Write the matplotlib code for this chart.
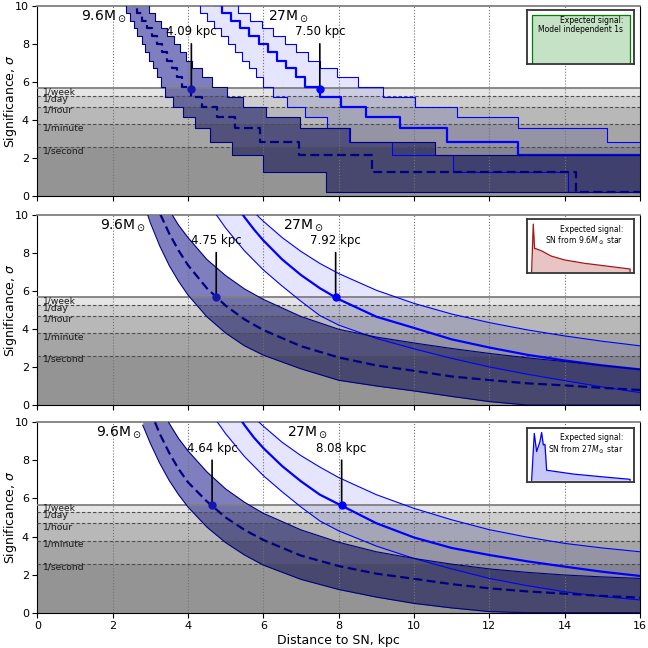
import numpy as np
import matplotlib
matplotlib.use('Agg')
import matplotlib.pyplot as plt

# ---------------- data ----------------
# discrete significance levels of the top (counting) panel
levels = [0.23, 1.28, 2.16, 2.86, 3.56, 4.14, 4.70, 5.23, 5.72, 6.25, 6.72,
          7.12, 7.57, 8.0, 8.42, 8.83, 9.23, 9.62, 10.05, 10.45]
# distances (kpc) where each stair drops one level (level index 19 downwards)
top96_lo = [2.25, 2.35, 2.45, 2.56, 2.66, 2.77, 2.87, 2.97, 3.08, 3.18, 3.29,
            3.39, 3.61, 3.88, 4.19, 4.58, 5.16, 6.00, 7.67]
top96_mid = [2.55, 2.64, 2.77, 2.90, 3.04, 3.17, 3.30, 3.43, 3.57, 3.70, 3.83,
             4.09, 4.36, 4.76, 5.25, 5.91, 6.96, 8.88, 14.30]
top96_hi = [2.85, 2.97, 3.13, 3.29, 3.45, 3.62, 3.78, 3.94, 4.10, 4.36, 4.63,
            5.03, 5.47, 6.07, 6.97, 8.30, 10.56]
top27_lo = [4.15, 4.32, 4.51, 4.69, 4.88, 5.07, 5.25, 5.44, 5.63, 5.81, 6.00,
            6.27, 6.62, 7.11, 7.68, 8.28, 9.42, 11.04, 14.10]
top27_mid = [4.70, 4.90, 5.14, 5.39, 5.63, 5.88, 6.12, 6.37, 6.61, 6.86, 7.10,
             7.50, 8.05, 8.73, 9.63, 10.87, 12.77]
top27_hi = [5.10, 5.34, 5.65, 5.96, 6.27, 6.57, 6.88, 7.19, 7.50, 7.96, 8.52,
            9.19, 10.03, 11.13, 12.77, 15.13]

d96 = [2.8, 3.0, 3.25, 3.5, 3.75, 4.0, 4.5, 5.0, 5.5, 6.0, 7.0, 8.0, 9.0,
       10.0, 11.0, 12.0, 13.0, 14.0, 15.0, 16.0]
d27 = [4.5, 4.75, 5.0, 5.25, 5.5, 5.75, 6.0, 6.5, 7.0, 7.5, 8.0, 9.0, 10.0,
       11.0, 12.0, 13.0, 14.0, 15.0, 16.0]

mid96_lo = [10.76, 9.58, 8.36, 7.34, 6.50, 5.78, 4.64, 3.78, 3.11, 2.62, 1.90,
            1.30, 1.00, 0.74, 0.45, 0.18, 0.0, 0.0, 0.0, 0.0]
mid96_mid = [12.66, 11.4, 10.09, 9.02, 8.12, 7.35, 6.14, 5.22, 4.50, 3.94, 3.09,
             2.50, 2.08, 1.80, 1.50, 1.31, 1.14, 1.03, 0.90, 0.79]
mid96_hi = [13.3, 12.3, 11.2, 10.25, 9.45, 8.8, 7.65, 6.8, 6.1, 5.55, 4.65,
            3.98, 3.57, 3.26, 2.97, 2.71, 2.48, 2.28, 2.07, 1.87]
mid27_lo = [11.0, 10.0, 9.3, 8.7, 8.1, 7.6, 7.1, 6.25, 5.45, 4.7, 4.2, 3.5,
            2.95, 2.45, 2.0, 1.62, 1.28, 0.95, 0.65]
mid27_mid = [13.4, 12.34, 11.42, 10.6, 9.87, 9.23, 8.65, 7.65, 6.83, 6.14,
             5.56, 4.64, 4.05, 3.45, 3.02, 2.64, 2.34, 2.08, 1.87]
mid27_hi = [13.5, 12.7, 11.9, 11.3, 10.7, 10.13, 9.66, 8.8, 8.07, 7.44, 6.91,
            6.03, 5.34, 4.78, 4.33, 3.95, 3.63, 3.35, 3.11]

bot96_lo = [9.85, 8.9, 7.85, 6.95, 6.2, 5.55, 4.5, 3.68, 3.03, 2.5, 1.75, 1.22,
            0.82, 0.49, 0.25, 0.06, 0.0, 0.0, 0.0, 0.0]
bot96_mid = [12.0, 10.6, 9.4, 8.4, 7.55, 6.85, 5.85, 5.0, 4.35, 3.82, 3.0,
             2.45, 2.05, 1.78, 1.5, 1.28, 1.12, 1.0, 0.88, 0.79]
bot96_hi = [13.0, 12.0, 10.9, 9.95, 9.15, 8.5, 7.4, 6.5, 5.8, 5.22, 4.35, 3.7,
            3.2, 2.85, 2.55, 2.3, 2.12, 1.98, 1.88, 1.8]
bot27_lo = [11.0, 10.1, 9.4, 8.8, 8.2, 7.7, 7.2, 6.35, 5.55, 4.82, 4.3, 3.5,
            2.85, 2.3, 1.8, 1.42, 1.1, 0.85, 0.67]
bot27_mid = [13.4, 12.3, 11.4, 10.6, 9.85, 9.2, 8.65, 7.7, 6.9, 6.2, 5.7, 4.7,
             3.95, 3.4, 3.03, 2.7, 2.42, 2.15, 1.93]
bot27_hi = [13.6, 12.8, 12.0, 11.4, 10.8, 10.25, 9.8, 8.95, 8.25, 7.65, 7.1,
            6.2, 5.48, 4.88, 4.36, 3.97, 3.64, 3.4, 3.2]

# 5-sigma crossing distances
cross96 = [4.09, 4.75, 4.64]
cross27 = [7.50, 7.92, 8.08]
cross_sig = 5.65

# background rate thresholds
thr_names = ['1/week', '1/day', '1/hour', '1/minute', '1/second']
thr_vals = [5.67, 5.28, 4.70, 3.77, 2.58]

# inset signal shapes
sig1_t = [0, 0, 1, 1]
sig1_v = [0, 1, 1, 0]
sig2_t = [0, 5, 9, 15, 30, 60, 100, 160, 230, 300, 300]
sig2_v = [0, 1.0, 0.49, 0.48, 0.44, 0.33, 0.25, 0.18, 0.12, 0.06, 0]
sig3_t = [0, 8, 15, 25, 30, 35, 40, 45, 65, 125, 215, 295, 295]
sig3_v = [0, 0.98, 0.6, 0.81, 1.0, 0.74, 0.75, 0.21, 0.19, 0.13, 0.07, 0.02, 0]

# ---------------- plotting ----------------
NAVY = '#000080'
BLUE = '#0000ff'


def stairs(drops):
    n = len(drops)
    ks = list(range(19, 19 - n, -1))
    x = [1.0] + list(drops) + [17.0]
    y = [levels[19]] + [levels[k - 1] for k in ks]
    vx, vy = [], []
    for i in range(len(y)):
        vx += [x[i], x[i + 1]]
        vy += [y[i], y[i]]
    return np.array(vx), np.array(vy)


fig = plt.figure(figsize=(6.48, 6.48), dpi=100)
L = 37.3 / 648
W = (640 - 37.3) / 648
axes_pos = [(1 - 196 / 648, 190 / 648), (1 - 405 / 648, 190.3 / 648),
            (1 - 612.7 / 648, 190.4 / 648)]
axes = [fig.add_axes([L, b, W, h]) for b, h in axes_pos]


def decorate(ax, i):
    ax.set_xlim(0, 16)
    ax.set_ylim(0, 10)
    for x in range(2, 16, 2):
        ax.axvline(x, color='0.45', ls=':', lw=0.8, zorder=3.5)
    for lev in thr_vals:
        ax.fill_between([0, 16], 0, lev, color='k', alpha=0.1, lw=0, zorder=3)
    ax.axhline(thr_vals[0], color='0.5', lw=1.3, zorder=3.6)
    for name, lev in zip(thr_names, thr_vals):
        if name != '1/week':
            ax.axhline(lev, color='0.3', lw=0.8, ls=(0, (3, 2)), zorder=3.6)
        ax.text(0.16, lev + 0.05, name, fontsize=6.6, va='top', ha='left',
                color='0.1', zorder=6)
    ax.set_yticks(range(0, 11, 2))
    ax.set_xticks(range(0, 17, 2))
    ax.tick_params(labelsize=8, length=3.5, pad=2.5)
    ax.set_ylabel(r'Significance, $\sigma$', fontsize=9)
    ax.yaxis.set_label_coords(-0.031, 0.5)
    if i < 2:
        ax.set_xticklabels([])
    else:
        ax.set_xlabel('Distance to SN, kpc', fontsize=9, labelpad=2)
    ax.spines['top'].set_color('0.5')
    ax.spines['top'].set_linewidth(1.3)


# ---- top panel (stairs) ----
ax = axes[0]
x96l, y96l = stairs(top96_lo)
x96m, y96m = stairs(top96_mid)
x96h, y96h = stairs(top96_hi)
x27l, y27l = stairs(top27_lo)
x27m, y27m = stairs(top27_mid)
x27h, y27h = stairs(top27_hi)
ax.fill(np.r_[x27h, x27l[::-1]], np.r_[y27h, y27l[::-1]], color=BLUE,
        alpha=0.1, lw=0, zorder=2)
ax.fill(np.r_[x96h, x96l[::-1]], np.r_[y96h, y96l[::-1]], color=NAVY,
        alpha=0.5, lw=0, zorder=2.1)
ax.plot(x27h, y27h, color=BLUE, lw=0.8, zorder=4)
ax.plot(x27l, y27l, color=BLUE, lw=0.8, zorder=4)
ax.plot(x27m, y27m, color=BLUE, lw=1.6, zorder=4)
ax.plot(x96h, y96h, color=NAVY, lw=0.8, zorder=4)
ax.plot(x96l, y96l, color=NAVY, lw=0.8, zorder=4)
ax.plot(x96m, y96m, color=NAVY, lw=1.6, ls=(0, (4, 2)), zorder=4)

# ---- smooth panels ----
for ax, (lo96, mi96, hi96, lo27, mi27, hi27) in zip(
        axes[1:], [(mid96_lo, mid96_mid, mid96_hi, mid27_lo, mid27_mid, mid27_hi),
                   (bot96_lo, bot96_mid, bot96_hi, bot27_lo, bot27_mid, bot27_hi)]):
    ax.fill_between(d27, lo27, hi27, color=BLUE, alpha=0.1, lw=0, zorder=2)
    ax.fill_between(d96, lo96, hi96, color=NAVY, alpha=0.5, lw=0, zorder=2.1)
    ax.plot(d27, hi27, color=BLUE, lw=0.8, zorder=4)
    ax.plot(d27, lo27, color=BLUE, lw=0.8, zorder=4)
    ax.plot(d27, mi27, color=BLUE, lw=1.6, zorder=4)
    ax.plot(d96, hi96, color=NAVY, lw=0.8, zorder=4)
    ax.plot(d96, lo96, color=NAVY, lw=0.8, zorder=4)
    ax.plot(d96, mi96, color=NAVY, lw=1.6, ls=(0, (4, 2)), zorder=4)

lab96_x = [2.35, 2.86, 2.77]
lab27_x = [6.13, 6.51, 6.62]
for i, ax in enumerate(axes):
    decorate(ax, i)
    for dx, col in [(cross96[i], '#1515b0'), (cross27[i], BLUE)]:
        ax.annotate('%.2f kpc' % dx, xy=(dx, cross_sig), xytext=(dx, 8.3),
                    ha='center', va='bottom', fontsize=8.5, zorder=7,
                    arrowprops=dict(arrowstyle='-', color='k', lw=1.2,
                                    shrinkA=2, shrinkB=0))
        ax.plot(dx, cross_sig, 'o', color=col, ms=5, zorder=8)
    ax.text(lab96_x[i], 9.88, r'9.6M$_\odot$', fontsize=10, ha='right',
            va='top', zorder=7)
    ax.text(lab27_x[i], 9.88, r'27M$_\odot$', fontsize=10, ha='left',
            va='top', zorder=7)

# ---- insets ----
ins_b = [1 - 64.3 / 648, 1 - 273.3 / 648, 1 - 481.7 / 648]
ins_txt = ['Expected signal:\nModel independent 1s',
           'Expected signal:\nSN from 9.6$M_\\odot$ star',
           'Expected signal:\nSN from 27$M_\\odot$ star']
ins_data = [(sig1_t, sig1_v, 'green', '#c6e2c6'),
            (sig2_t, sig2_v, '#a01818', '#e9c4c4'),
            (sig3_t, sig3_v, BLUE, '#c8c8f8')]
for i in range(3):
    ia = fig.add_axes([526.7 / 648, ins_b[i], 107.3 / 648, 54 / 648])
    ia.set_xticks([])
    ia.set_yticks([])
    for s in ia.spines.values():
        s.set_color('0.2')
        s.set_linewidth(1.3)
    t, v, lc, fc = ins_data[i]
    ia.fill_between(t, 0, v, color=fc, lw=0)
    ia.plot(t, v, color=lc, lw=0.9)
    span = max(t) - min(t)
    ia.set_xlim(min(t) - 0.05 * span, max(t) + 0.04 * span)
    ia.set_ylim(-0.03, 1.1)
    ia.text(0.9, 0.9, ins_txt[i], transform=ia.transAxes, ha='right',
            va='top', fontsize=5.5, linespacing=1.1, zorder=5)

fig.savefig('out.png', dpi=100)
